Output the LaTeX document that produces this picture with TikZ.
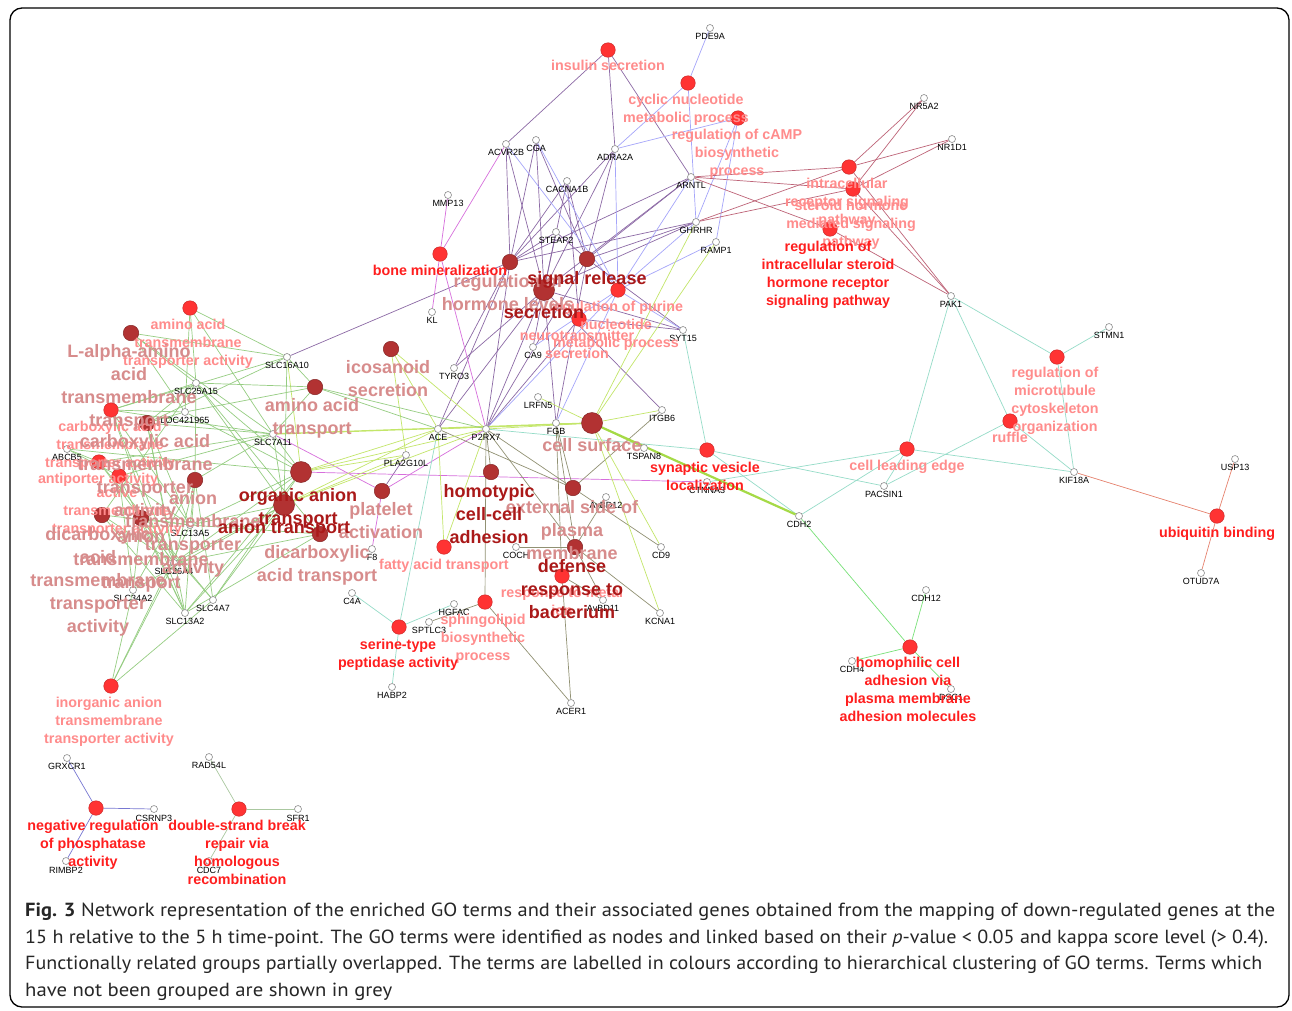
\documentclass[tikz,border=0pt]{standalone}
\usepackage{fontspec}
\usepackage{graphicx}
\setmainfont{Liberation Sans}
\newfontfamily\capfont{PT Sans}
\usetikzlibrary{backgrounds}
\definecolor{ePurC}{RGB}{140,105,165}
\definecolor{eLavC}{RGB}{165,165,250}
\definecolor{eMauC}{RGB}{190,100,120}
\definecolor{eMagC}{RGB}{215,110,220}
\definecolor{eMintC}{RGB}{150,220,200}
\definecolor{eOlC}{RGB}{145,145,115}
\definecolor{eYGC}{RGB}{195,230,105}
\definecolor{eGrC}{RGB}{150,205,130}
\definecolor{eSalC}{RGB}{230,130,110}
\definecolor{eBgC}{RGB}{120,225,120}
\definecolor{eBlC}{RGB}{120,120,210}
\definecolor{eGgC}{RGB}{170,200,160}
\definecolor{eThkC}{RGB}{165,218,70}
\definecolor{tRC}{RGB}{255,51,51}
\definecolor{tDC}{RGB}{178,50,50}
\definecolor{lBr}{RGB}{255,30,30}
\definecolor{lPk}{RGB}{255,140,140}
\definecolor{lDk}{RGB}{170,25,25}
\definecolor{lDu}{RGB}{215,140,140}
\newcommand\gn[4]{\node[gene] (#1) at (#2,#3) {}; \node[glab] (#1-l) at (#2,#3+5.5) {#4};}
\begin{document}
\begin{tikzpicture}[x=1pt,y=-1pt,
 gene/.style={circle,draw=black!45,fill=white,line width=0.6pt,minimum size=7pt,inner sep=0pt},
 glab/.style={anchor=north,inner sep=0pt,font=\fontsize{9}{9.5}\selectfont,text=black},
 tR/.style={circle,draw=tRC!80!black,fill=tRC,line width=0.5pt,minimum size=14.5pt,inner sep=0pt},
 tD/.style={circle,draw=tDC!75!black,fill=tDC,line width=0.5pt,minimum size=15.5pt,inner sep=0pt},
 tB/.style={tD,minimum size=21pt},
 lS/.style={anchor=north,inner sep=0pt,align=center,font=\bfseries\fontsize{14.3}{18}\selectfont},
 lL/.style={anchor=north,inner sep=0pt,align=center,font=\bfseries\fontsize{18}{23}\selectfont},
 cBr/.style={text=lBr}, cPk/.style={text=lPk}, cDk/.style={text=lDk}, cDu/.style={text=lDu},
 ed/.style={line width=0.7pt},
 ePur/.style={ed,draw=ePurC}, eLav/.style={ed,draw=eLavC}, eMau/.style={ed,draw=eMauC},
 eMag/.style={ed,draw=eMagC}, eMint/.style={ed,draw=eMintC}, eOl/.style={ed,draw=eOlC},
 eYG/.style={ed,draw=eYGC}, eGr/.style={ed,draw=eGrC}, eSal/.style={ed,draw=eSalC},
 eBg/.style={ed,draw=eBgC}, eBl/.style={ed,draw=eBlC}, eGg/.style={ed,draw=eGgC},
 capl/.style={anchor=base west,inner sep=0pt,text=black!85}
]
\useasboundingbox (0,0) rectangle (1292,1010);
% ---------- term nodes
\node[tR] (tIns) at (608,50) {};
\node[tR] (tCyc) at (688,83) {};
\node[tR] (tCamp) at (738,118) {};
\node[tR] (tIRS) at (849,167) {};
\node[tR] (tSH) at (853,189) {};
\node[tR] (tRIS) at (830,229) {};
\node[tR] (tBone) at (440,254) {};
\node[tD] (tRHL) at (510,262) {};
\node[tD] (tSig) at (587,259) {};
\node[tB] (tSec) at (544,290) {};
\node[tR] (tPur) at (618,290) {};
\node[tR] (tNeu) at (579,319) {};
\node[tD] (tIco) at (391,349) {};
\node[tD] (tAAT) at (315,387) {};
\node[tR] (tAATA) at (190,308) {};
\node[tD] (tLAA) at (131,333) {};
\node[tR] (tCTA) at (111,410) {};
\node[tD] (tCTT) at (147,423) {};
\node[tR] (tAnti) at (99,462) {};
\node[tR] (tAct) at (119,476) {};
\node[tD] (tATA) at (195,480) {};
\node[tD] (tDTA) at (102,515) {};
\node[tD] (tATT) at (141,518) {};
\node[tB] (tOAT) at (301,472) {};
\node[tB] (tAnT) at (284,505) {};
\node[tD] (tDAT) at (320,534) {};
\node[tR] (tInorg) at (111,686) {};
\node[tD] (tPlat) at (382,491) {};
\node[tD] (tHomo) at (491,472) {};
\node[tB] (tCS) at (592,423) {};
\node[tR] (tSyn) at (707,450) {};
\node[tD] (tExt) at (573,488) {};
\node[tR] (tFat) at (444,547) {};
\node[tD] (tDef) at (575,547) {};
\node[tR] (tMet) at (562,576) {};
\node[tR] (tSph) at (485,602) {};
\node[tR] (tSer) at (399,627) {};
\node[tR] (tLead) at (907,449) {};
\node[tR] (tRuf) at (1010,421) {};
\node[tR] (tMic) at (1057,357) {};
\node[tR] (tUbi) at (1217,516) {};
\node[tR] (tHomoph) at (910,647) {};
\node[tR] (tPhos) at (96,808) {};
\node[tR] (tDSB) at (239,809) {};
% ---------- gene nodes
\gn{PDE9A}{710}{28}{PDE9A}
\gn{ACVR2B}{506}{144}{ACVR2B}
\gn{CGA}{536}{140}{CGA}
\gn{ADRA2A}{615}{149}{ADRA2A}
\gn{CACNA1B}{567}{181}{CACNA1B}
\gn{ARNTL}{691}{177}{ARNTL}
\gn{GHRHR}{696}{222}{GHRHR}
\gn{RAMP1}{716}{242}{RAMP1}
\gn{NR5A2}{924}{98}{NR5A2}
\gn{NR1D1}{952}{139}{NR1D1}
\gn{MMP13}{448}{195}{MMP13}
\gn{STEAP2}{556}{232}{STEAP2}
\gn{KL}{432}{312}{KL}
\gn{SYT15}{683}{330}{SYT15}
\gn{CA9}{533}{347}{CA9}
\gn{TYRO3}{454}{368}{TYRO3}
\gn{LRFN5}{538}{397}{LRFN5}
\gn{ITGB6}{662}{410}{ITGB6}
\gn{FGB}{556}{423}{FGB}
\gn{ACE}{438}{429}{ACE}
\gn{P2RX7}{486}{429}{P2RX7}
\gn{TSPAN8}{644}{448}{TSPAN8}
\gn{PLA2G10L}{406}{455}{PLA2G10L}
\gn{CTNNA3}{707}{482}{CTNNA3}
\gn{AvBD12}{606}{497}{AvBD12}
\gn{F8}{372}{549}{F8}
\gn{COCH}{516}{547}{COCH}
\gn{CD9}{661}{547}{CD9}
\gn{C4A}{352}{593}{C4A}
\gn{HGFAC}{454}{604}{HGFAC}
\gn{AvBD11}{603}{600}{AvBD11}
\gn{KCNA1}{660}{613}{KCNA1}
\gn{SPTLC3}{429}{622}{SPTLC3}
\gn{HABP2}{392}{687}{HABP2}
\gn{ACER1}{571}{703}{ACER1}
\gn{CDH2}{799}{516}{CDH2}
\gn{PACSIN1}{884}{486}{PACSIN1}
\gn{PAK1}{951}{296}{PAK1}
\gn{STMN1}{1109}{327}{STMN1}
\gn{KIF18A}{1074}{472}{KIF18A}
\gn{USP13}{1235}{459}{USP13}
\gn{OTUD7A}{1201}{573}{OTUD7A}
\gn{CDH12}{926}{590}{CDH12}
\gn{CDH4}{852}{661}{CDH4}
\gn{DSC1}{951}{689}{DSC1}
\gn{SLC16A10}{287}{357}{SLC16A10}
\gn{SLC25A15}{196}{383}{SLC25A15}
\gn{LOC421965}{185}{412}{LOC421965}
\gn{SLC7A11}{273}{434}{SLC7A11}
\gn{ABCB5}{67}{449}{ABCB5}
\gn{SLC13A5}{190}{525}{SLC13A5}
\gn{SLC26A4}{174}{563}{SLC26A4}
\gn{SLC34A2}{133}{590}{SLC34A2}
\gn{SLC4A7}{213}{600}{SLC4A7}
\gn{SLC13A2}{185}{613}{SLC13A2}
\gn{GRXCR1}{67}{758}{GRXCR1}
\gn{CSRNP3}{154}{809}{CSRNP3}
\gn{RIMBP2}{66}{861}{RIMBP2}
\gn{RAD54L}{209}{757}{RAD54L}
\gn{SFR1}{298}{809}{SFR1}
\gn{CDC7}{209}{861}{CDC7}
% ---------- edges
\begin{pgfonlayer}{background}
\fill[white] (0,0) rectangle (1292,1010);
\foreach \a/\b in {tIns/ACVR2B,tIns/ADRA2A,tIns/ARNTL,
 tRHL/ACVR2B,tRHL/CGA,tRHL/ADRA2A,tRHL/ARNTL,tRHL/GHRHR,tRHL/STEAP2,tRHL/CACNA1B,tRHL/SLC16A10,tRHL/ACE,tRHL/P2RX7,tRHL/TYRO3,
 tSig/CGA,tSig/CACNA1B,tSig/ADRA2A,tSig/ARNTL,tSig/GHRHR,tSig/STEAP2,tSig/P2RX7,tSig/SYT15,tSig/FGB,
 tSec/ACVR2B,tSec/CGA,tSec/STEAP2,tSec/CACNA1B,tSec/ADRA2A,tSec/ARNTL,tSec/GHRHR,tSec/TYRO3,tSec/CA9,tSec/P2RX7,tSec/FGB,tSec/SYT15,tSec/ITGB6,tSec/ACE,
 tNeu/SYT15,tNeu/P2RX7,tNeu/CACNA1B,tPlat/PLA2G10L}
 \draw[ePur] (\a) -- (\b);
\foreach \a/\b in {tCyc/PDE9A,tCyc/ADRA2A,tCyc/GHRHR,tCamp/ADRA2A,tCamp/GHRHR,tCamp/RAMP1,
 tPur/ADRA2A,tPur/GHRHR,tPur/RAMP1,tPur/SYT15,tPur/P2RX7,tPur/FGB,tPur/CA9,tPur/ACVR2B,tPur/CGA,tPur/ARNTL}
 \draw[eLav] (\a) -- (\b);
\foreach \a/\b in {tIRS/NR5A2,tIRS/NR1D1,tIRS/PAK1,tIRS/ARNTL,tIRS/GHRHR,
 tSH/NR5A2,tSH/NR1D1,tSH/PAK1,tSH/ARNTL,tSH/GHRHR,tRIS/PAK1,tRIS/ARNTL}
 \draw[eMau] (\a) -- (\b);
\foreach \a/\b in {tBone/ACVR2B,tBone/MMP13,tBone/KL,tBone/P2RX7,tPlat/F8,tPlat/SLC7A11,tPlat/P2RX7,tOAT/CTNNA3}
 \draw[eMag] (\a) -- (\b);
\foreach \a/\b in {tSyn/SYT15,tSyn/CDH2,tSyn/PACSIN1,tSyn/P2RX7,
 tLead/PAK1,tLead/CDH2,tLead/PACSIN1,tLead/KIF18A,tLead/CTNNA3,
 tRuf/PAK1,tRuf/PACSIN1,tRuf/KIF18A,tMic/PAK1,tMic/STMN1,tMic/KIF18A,
 tSer/C4A,tSer/HGFAC,tSer/HABP2,tSer/ACE}
 \draw[eMint] (\a) -- (\b);
\foreach \a/\b in {tHomo/P2RX7,tExt/ITGB6,tExt/ACE,tExt/P2RX7,tExt/FGB,tExt/CD9,
 tDef/P2RX7,tDef/FGB,tDef/COCH,tDef/AvBD12,tDef/AvBD11,tDef/KCNA1,
 tMet/FGB,tMet/AvBD11,tMet/ACER1,tSph/P2RX7,tSph/SPTLC3,tSph/ACER1}
 \draw[eOl] (\a) -- (\b);
\foreach \a/\b in {tCS/ITGB6,tCS/FGB,tCS/P2RX7,tCS/ACE,tCS/LRFN5,tCS/RAMP1,tCS/GHRHR,tCS/TSPAN8,tCS/CD9,tCS/KCNA1,
 tIco/ACE,tIco/P2RX7,tIco/PLA2G10L,tFat/ACE,tFat/P2RX7,
 tOAT/SLC16A10,tOAT/P2RX7,tOAT/ACE,tOAT/PLA2G10L,tAnT/P2RX7,tAnT/ACE,tAnT/PLA2G10L}
 \draw[eYG] (\a) -- (\b);
\draw[eYG,line width=1.4pt] (tCS) -- (SLC7A11);
\draw[draw=eThkC,line width=2.2pt] (tCS) -- (CDH2);
\foreach \a/\b in {tAATA/SLC25A15,tAATA/SLC7A11,tAATA/SLC16A10,tAATA/LOC421965,
 tLAA/SLC25A15,tLAA/SLC7A11,tLAA/SLC16A10,tLAA/LOC421965,
 tCTA/SLC25A15,tCTA/SLC7A11,tCTA/LOC421965,tCTA/SLC13A5,tCTA/SLC26A4,tCTA/SLC13A2,tCTA/SLC16A10,
 tCTT/SLC25A15,tCTT/SLC7A11,tCTT/LOC421965,tCTT/SLC13A5,tCTT/SLC26A4,tCTT/SLC13A2,tCTT/SLC16A10,
 tAnti/ABCB5,tAnti/SLC7A11,tAnti/SLC26A4,tAnti/SLC4A7,
 tAct/ABCB5,tAct/SLC34A2,tAct/SLC13A5,tAct/SLC13A2,tAct/SLC7A11,
 tATA/SLC26A4,tATA/SLC4A7,tATA/SLC34A2,tATA/SLC13A5,tATA/SLC13A2,tATA/SLC7A11,tATA/SLC25A15,
 tDTA/SLC13A5,tDTA/SLC13A2,tDTA/SLC26A4,tDTA/SLC25A15,
 tATT/SLC26A4,tATT/SLC4A7,tATT/SLC34A2,tATT/SLC13A5,tATT/SLC13A2,
 tOAT/SLC7A11,tOAT/SLC25A15,tOAT/SLC13A5,tOAT/SLC26A4,tOAT/SLC4A7,tOAT/SLC13A2,tOAT/LOC421965,tOAT/ABCB5,
 tAnT/SLC7A11,tAnT/SLC25A15,tAnT/SLC13A5,tAnT/SLC26A4,tAnT/SLC4A7,tAnT/SLC13A2,tAnT/SLC34A2,tAnT/SLC16A10,
 tDAT/SLC25A15,tDAT/SLC13A5,tDAT/SLC13A2,tDAT/SLC26A4,
 tAAT/SLC7A11,tAAT/SLC25A15,tAAT/SLC16A10,tAAT/LOC421965,tAAT/P2RX7,tAAT/ACE,
 tInorg/SLC34A2,tInorg/SLC26A4,tInorg/SLC4A7,tInorg/SLC13A5}
 \draw[eGr] (\a) -- (\b);
\foreach \a/\b in {tHomoph/CDH12,tHomoph/CDH4,tHomoph/DSC1,tHomoph/CDH2}
 \draw[eBg] (\a) -- (\b);
\foreach \a/\b in {tUbi/USP13,tUbi/OTUD7A,tUbi/KIF18A}
 \draw[eSal] (\a) -- (\b);
\foreach \a/\b in {tPhos/GRXCR1,tPhos/CSRNP3,tPhos/RIMBP2}
 \draw[eBl] (\a) -- (\b);
\foreach \a/\b in {tDSB/RAD54L,tDSB/SFR1,tDSB/CDC7}
 \draw[eGg] (\a) -- (\b);
\end{pgfonlayer}
% ---------- term labels (pink / dusty first)
\node[lS,cPk] (lIns) at (608,60) {insulin secretion};
\node[lS,cPk] (lCyc) at (686,94) {cyclic nucleotide\\metabolic process};
\node[lS,cPk] (lCamp) at (737,129) {regulation of cAMP\\biosynthetic\\process};
\node[lS,cPk] (lIRS) at (847,178) {intracellular\\receptor signaling\\pathway};
\node[lS,cPk] (lSH) at (851,200) {steroid hormone\\mediated signaling\\pathway};
\node[lS,cPk] (lPur) at (616,301) {regulation of purine\\nucleotide\\metabolic process};
\node[lS,cPk] (lNeu) at (577,330) {neurotransmitter\\secretion};
\node[lS,cPk] (lAATA) at (188,319) {amino acid\\transmembrane\\transporter activity};
\node[lS,cPk] (lCTA) at (110,421) {carboxylic acid\\transmembrane\\transporter activity};
\node[lS,cPk] (lAnti) at (98,473) {antiporter activity};
\node[lS,cPk] (lAct) at (117,487) {active\\transmembrane\\transporter activity};
\node[lS,cPk] (lFat) at (444,559) {fatty acid transport};
\node[lS,cPk] (lMet) at (562,587) {response to metal\\ion};
\node[lS,cPk] (lSph) at (483,614) {sphingolipid\\biosynthetic\\process};
\node[lS,cPk] (lLead) at (907,460) {cell leading edge};
\node[lS,cPk] (lRuf) at (1010,432) {ruffle};
\node[lS,cPk] (lMic) at (1055,367) {regulation of\\microtubule\\cytoskeleton\\organization};
\node[lS,cPk] (lInorg) at (109,697) {inorganic anion\\transmembrane\\transporter activity};
\node[lL,cDu] (lRHL) at (508,274) {regulation of\\hormone levels};
\node[lL,cDu] (lIco) at (388,360) {icosanoid\\secretion};
\node[lL,cDu] (lAAT) at (312,398) {amino acid\\transport};
\node[lL,cDu] (lLAA) at (129,344) {L-alpha-amino\\acid\\transmembrane\\transport};
\node[lL,cDu] (lCTT) at (145,434) {carboxylic acid\\transmembrane\\transporter\\activity};
\node[lL,cDu] (lATA) at (193,491) {anion\\transmembrane\\transporter\\activity};
\node[lL,cDu] (lDTA) at (98,527) {dicarboxylic\\acid\\transmembrane\\transporter\\activity};
\node[lL,cDu] (lATT) at (141,529) {anion\\transmembrane\\transport};
\node[lL,cDu] (lDAT) at (317,545) {dicarboxylic\\acid transport};
\node[lL,cDu] (lPlat) at (381,502) {platelet\\activation};
\node[lL,cDu] (lCS) at (592,438) {cell surface};
\node[lL,cDu] (lExt) at (572,500) {external side of\\plasma\\membrane};
% ---------- bright red / dark red labels
\node[lS,cBr] (lRIS) at (828,241) {regulation of\\intracellular steroid\\hormone receptor\\signaling pathway};
\node[lS,cBr] (lBone) at (440,265) {bone mineralization};
\node[lS,cBr] (lSer) at (398,639) {serine-type\\peptidase activity};
\node[lS,cBr] (lSyn) at (705,462) {synaptic vesicle\\localization};
\node[lS,cBr] (lUbi) at (1217,527) {ubiquitin binding};
\node[lS,cBr] (lHomoph) at (908,657) {homophilic cell\\adhesion via\\plasma membrane\\adhesion molecules};
\node[lS,cBr] (lPhos) at (93,820) {negative regulation\\of phosphatase\\activity};
\node[lS,cBr] (lDSB) at (237,820) {double-strand break\\repair via\\homologous\\recombination};
\node[lL,cDk] (lSig) at (587,271) {signal release};
\node[lL,cDk] (lSec) at (544,305) {secretion};
\node[lL,cDk] (lOAT) at (298,488) {organic anion\\transport};
\node[lL,cDk] (lAnT) at (284,520) {anion transport};
\node[lL,cDk] (lHomo) at (489,484) {homotypic\\cell-cell\\adhesion};
\node[lL,cDk] (lDef) at (572,559) {defense\\response to\\bacterium};
% ---------- frame
\draw[line width=1.3pt,rounded corners=12pt] (10,8) rectangle (1289,1007);
% ---------- caption
\node[capl] (cap1) at (25,916) {\resizebox{1250pt}{\height}{\capfont\fontsize{19}{19}\selectfont\textbf{Fig. 3} Network representation of the enriched GO terms and their associated genes obtained from the mapping of down-regulated genes at the}};
\node[capl] (cap2) at (25,943) {\resizebox{1243pt}{\height}{\capfont\fontsize{19}{19}\selectfont 15 h relative to the 5 h time-point. The GO terms were identified as nodes and linked based on their \textit{p}-value < 0.05 and kappa score level (> 0.4).}};
\node[capl] (cap3) at (25,969) {\resizebox{1237pt}{\height}{\capfont\fontsize{19}{19}\selectfont Functionally related groups partially overlapped. The terms are labelled in colours according to hierarchical clustering of GO terms. Terms which}};
\node[capl] (cap4) at (25,996) {\resizebox{367pt}{\height}{\capfont\fontsize{19}{19}\selectfont have not been grouped are shown in grey}};
\end{tikzpicture}
\end{document}
